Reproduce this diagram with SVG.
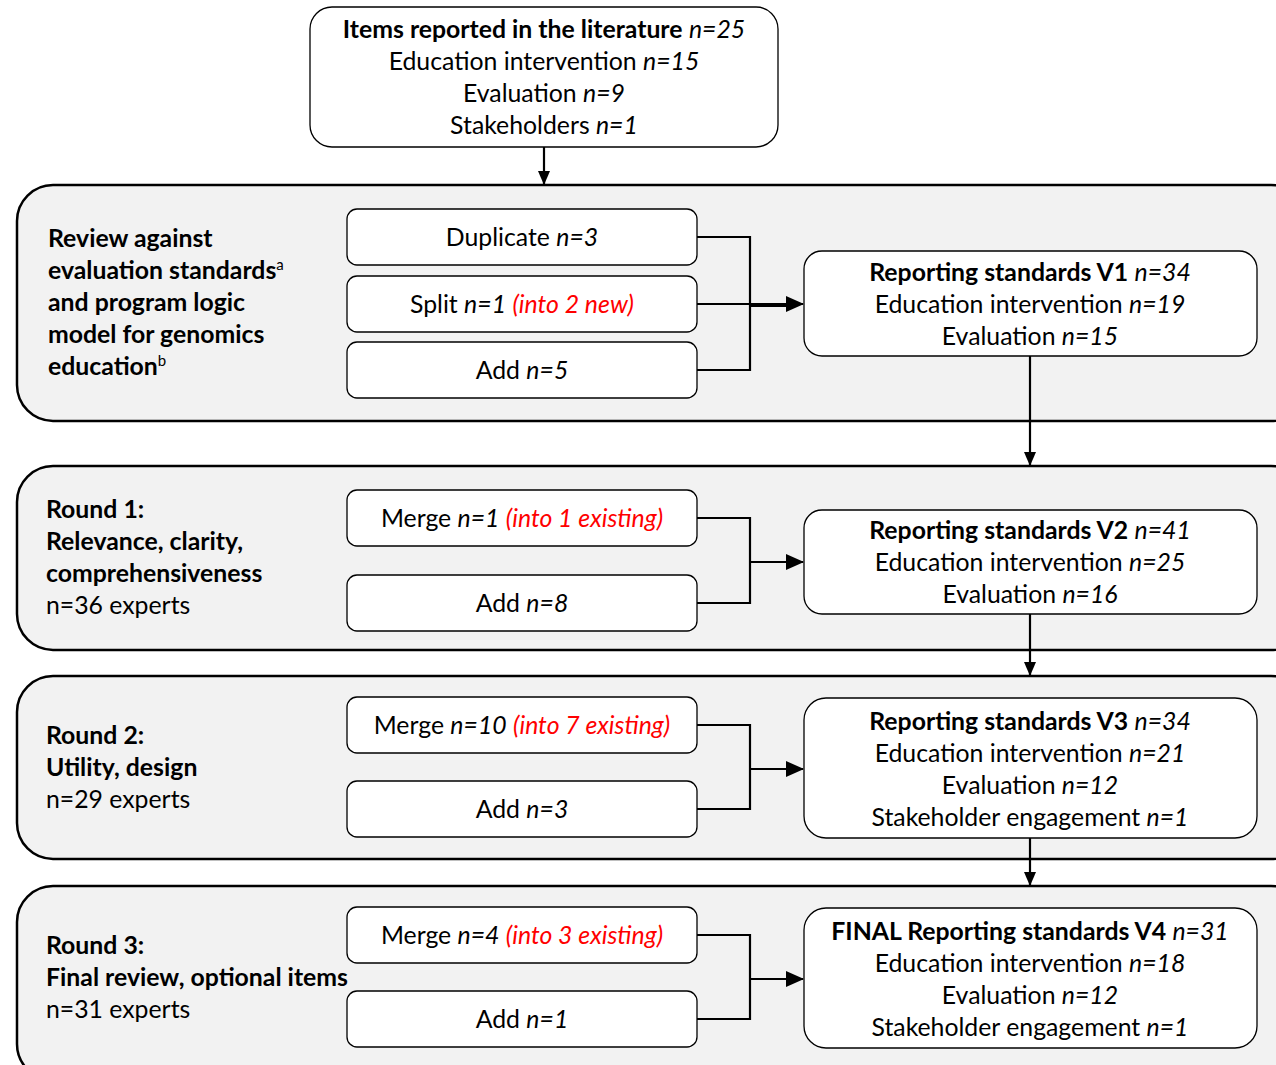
<svg xmlns="http://www.w3.org/2000/svg" width="1276" height="1065" viewBox="0 0 1276 1065">
<style>
text{font-family:Lato,"Open Sans","Liberation Sans",sans-serif;font-size:24.8px;fill:#000}
.c{text-anchor:middle}
.b{font-weight:bold}
.i{font-style:italic}
.r{fill:#ff0000;font-style:italic}
.panel{fill:#f2f2f2;stroke:#000;stroke-width:2.5}
.box{fill:#fff;stroke:#000;stroke-width:1.3}
.ln{fill:none;stroke:#000;stroke-width:2.2}
</style>
<defs>
<marker id="ah" viewBox="0 0 12 14" markerWidth="12" markerHeight="14" refX="6" refY="13" orient="0" markerUnits="userSpaceOnUse">
<path d="M0,0 L12,0 L6,14 Z" fill="#000"/>
</marker>
<marker id="av" viewBox="0 0 18 16" markerWidth="18" markerHeight="16" refX="17" refY="8" orient="auto" markerUnits="userSpaceOnUse">
<path d="M0,0 L18,8 L0,16 Z" fill="#000"/>
</marker>
</defs>

<g id="panel1"><rect class="panel" x="17" y="185" width="1290" height="236" rx="36"/>
<text x="48" y="247" class="b">Review against</text>
<text x="48" y="279" class="b">evaluation standards<tspan font-size="15" baseline-shift="super" font-weight="normal">a</tspan></text>
<text x="48" y="311" class="b">and program logic</text>
<text x="48" y="343" class="b">model for genomics</text>
<text x="48" y="375" class="b">education<tspan font-size="15" baseline-shift="super" font-weight="normal">b</tspan></text>
</g>
<g id="panel2"><rect class="panel" x="17" y="466" width="1290" height="184" rx="36"/>
<text x="46" y="518" class="b">Round 1:</text>
<text x="46" y="550" class="b">Relevance, clarity,</text>
<text x="46" y="582" class="b">comprehensiveness</text>
<text x="46" y="614">n=36 experts</text>
</g>
<g id="panel3"><rect class="panel" x="17" y="676" width="1290" height="183" rx="36"/>
<text x="46" y="744" class="b">Round 2:</text>
<text x="46" y="776" class="b">Utility, design</text>
<text x="46" y="808">n=29 experts</text>
</g>
<g id="panel4"><rect class="panel" x="17" y="886" width="1290" height="194" rx="36"/>
<text x="46" y="954" class="b">Round 3:</text>
<text x="46" y="986" class="b">Final review, optional items</text>
<text x="46" y="1018">n=31 experts</text>
</g>

<g id="items">
<rect class="box" x="310" y="7" width="468" height="140" rx="22"/>
<text x="544" y="38" class="c"><tspan class="b">Items reported in the literature</tspan> <tspan class="i">n=25</tspan></text>
<text x="544" y="70" class="c">Education intervention <tspan class="i">n=15</tspan></text>
<text x="544" y="102" class="c">Evaluation <tspan class="i">n=9</tspan></text>
<text x="544" y="134" class="c">Stakeholders <tspan class="i">n=1</tspan></text>
</g>

<g id="duplicate"><rect class="box" x="347" y="209" width="350" height="56" rx="10"/>
<text x="522" y="246" class="c">Duplicate <tspan class="i">n=3</tspan></text></g>
<g id="split"><rect class="box" x="347" y="276" width="350" height="56" rx="10"/>
<text x="522" y="313" class="c">Split <tspan class="i">n=1</tspan> <tspan class="r">(into 2 new)</tspan></text></g>
<g id="add1"><rect class="box" x="347" y="342" width="350" height="56" rx="10"/>
<text x="522" y="379" class="c">Add <tspan class="i">n=5</tspan></text></g>

<g id="v1"><rect class="box" x="804" y="251" width="453" height="105" rx="18"/>
<text x="1030" y="281" class="c"><tspan class="b">Reporting standards V1</tspan> <tspan class="i">n=34</tspan></text>
<text x="1030" y="313" class="c">Education intervention <tspan class="i">n=19</tspan></text>
<text x="1030" y="345" class="c">Evaluation <tspan class="i">n=15</tspan></text></g>

<g id="merge1"><rect class="box" x="347" y="490" width="350" height="56" rx="10"/>
<text x="522" y="527" class="c">Merge <tspan class="i">n=1</tspan> <tspan class="r">(into 1 existing)</tspan></text></g>
<g id="add2"><rect class="box" x="347" y="575" width="350" height="56" rx="10"/>
<text x="522" y="612" class="c">Add <tspan class="i">n=8</tspan></text></g>
<g id="v2"><rect class="box" x="804" y="510" width="453" height="104" rx="18"/>
<text x="1030" y="539" class="c"><tspan class="b">Reporting standards V2</tspan> <tspan class="i">n=41</tspan></text>
<text x="1030" y="571" class="c">Education intervention <tspan class="i">n=25</tspan></text>
<text x="1030" y="603" class="c">Evaluation <tspan class="i">n=16</tspan></text></g>

<g id="merge2"><rect class="box" x="347" y="697" width="350" height="56" rx="10"/>
<text x="522" y="734" class="c">Merge <tspan class="i">n=10</tspan> <tspan class="r">(into 7 existing)</tspan></text></g>
<g id="add3"><rect class="box" x="347" y="781" width="350" height="56" rx="10"/>
<text x="522" y="818" class="c">Add <tspan class="i">n=3</tspan></text></g>
<g id="v3"><rect class="box" x="804" y="698" width="453" height="140" rx="22"/>
<text x="1030" y="730" class="c"><tspan class="b">Reporting standards V3</tspan> <tspan class="i">n=34</tspan></text>
<text x="1030" y="762" class="c">Education intervention <tspan class="i">n=21</tspan></text>
<text x="1030" y="794" class="c">Evaluation <tspan class="i">n=12</tspan></text>
<text x="1030" y="826" class="c">Stakeholder engagement <tspan class="i">n=1</tspan></text></g>

<g id="merge3"><rect class="box" x="347" y="907" width="350" height="56" rx="10"/>
<text x="522" y="944" class="c">Merge <tspan class="i">n=4</tspan> <tspan class="r">(into 3 existing)</tspan></text></g>
<g id="add4"><rect class="box" x="347" y="991" width="350" height="56" rx="10"/>
<text x="522" y="1028" class="c">Add <tspan class="i">n=1</tspan></text></g>
<g id="v4"><rect class="box" x="804" y="908" width="453" height="140" rx="22"/>
<text x="1030" y="940" class="c"><tspan class="b">FINAL Reporting standards V4</tspan> <tspan class="i">n=31</tspan></text>
<text x="1030" y="972" class="c">Education intervention <tspan class="i">n=18</tspan></text>
<text x="1030" y="1004" class="c">Evaluation <tspan class="i">n=12</tspan></text>
<text x="1030" y="1036" class="c">Stakeholder engagement <tspan class="i">n=1</tspan></text></g>

<g id="connectors">
<line class="ln" x1="544" y1="147" x2="544" y2="184" marker-end="url(#ah)"/>
<path class="ln" d="M697,237 H750 V370 H697 M697,304 H750"/>
<line class="ln" x1="750" y1="304" x2="803" y2="304" marker-end="url(#av)"/>
<line class="ln" x1="750" y1="306" x2="790" y2="306"/>
<line class="ln" x1="1030" y1="356" x2="1030" y2="465" marker-end="url(#ah)"/>
<path class="ln" d="M697,518 H750 V603 H697"/>
<line class="ln" x1="750" y1="562" x2="803" y2="562" marker-end="url(#av)"/>
<line class="ln" x1="1030" y1="614" x2="1030" y2="675" marker-end="url(#ah)"/>
<path class="ln" d="M697,725 H750 V809 H697"/>
<line class="ln" x1="750" y1="769" x2="803" y2="769" marker-end="url(#av)"/>
<line class="ln" x1="1030" y1="838" x2="1030" y2="885" marker-end="url(#ah)"/>
<path class="ln" d="M697,935 H750 V1019 H697"/>
<line class="ln" x1="750" y1="979" x2="803" y2="979" marker-end="url(#av)"/>
</g>
</svg>
